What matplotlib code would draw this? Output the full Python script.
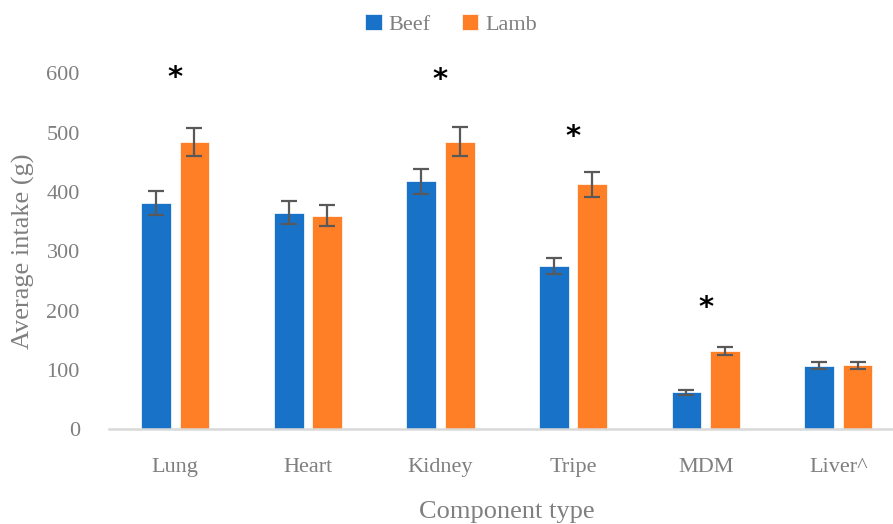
import numpy as np
import matplotlib
matplotlib.use("Agg")
import matplotlib.pyplot as plt

# mean intake per component, with error bars
components = ["Lung", "Heart", "Kidney", "Tripe", "MDM", "Liver^"]
beef_mean = [381, 365, 418, 275, 62, 107]
beef_err = [20, 19, 21, 14, 4, 6]
lamb_mean = [484, 360, 485, 413, 132, 108]
lamb_err = [24, 18, 25, 21, 7, 6]
# significance markers: (component index, height in g)
sig_marks = [(0, 592), (2, 589), (3, 492), (4, 204)]

BEEF = "#1872C8"
LAMB = "#FF7F27"
GREY = "#7F7F7F"

plt.rcParams["font.family"] = ["Liberation Serif", "DejaVu Serif"]

fig = plt.figure(figsize=(8.93, 5.24), dpi=100)
ax = fig.add_axes([0.122, 0.181, 0.891, 0.679])

x = np.arange(len(components))
w = 0.225
off = 0.145
err_kw = dict(ecolor="#595959", elinewidth=1.6, capsize=6, capthick=1.6)
ax.bar(x - off, beef_mean, w, yerr=beef_err, color=BEEF, label="Beef",
       edgecolor="white", linewidth=0.5, error_kw=err_kw)
ax.bar(x + off, lamb_mean, w, yerr=lamb_err, color=LAMB, label="Lamb",
       edgecolor="white", linewidth=0.5, error_kw=err_kw)

for i, h in sig_marks:
    ax.text(x[i], h, "*", ha="center", va="center", fontsize=21,
            family="DejaVu Sans", weight="bold", color="black")

ax.set_xlim(-0.5, len(components) - 0.5)
ax.set_ylim(0, 600)
ax.set_yticks(range(0, 601, 100))
ax.set_xticks(x)
ax.set_xticklabels(components)
ax.tick_params(axis="both", length=0, colors=GREY, labelsize=16)
ax.tick_params(axis="x", pad=21)
ax.tick_params(axis="y", pad=21)

for s in ["top", "right", "left"]:
    ax.spines[s].set_visible(False)
ax.spines["bottom"].set_color("#D9D9D9")
ax.spines["bottom"].set_linewidth(1.8)

ax.set_xlabel("Component type", fontsize=19, color=GREY, labelpad=17)
ax.set_ylabel("Average intake (g)", fontsize=19, color=GREY, labelpad=8)

fig.legend(loc="upper center", bbox_to_anchor=(0.505, 1.012), ncol=2,
           frameon=False, fontsize=16, labelcolor=GREY, handlelength=0.75,
           handleheight=0.75, handletextpad=0.3, columnspacing=1.4)

fig.savefig("out.png", dpi=100, facecolor="white")
